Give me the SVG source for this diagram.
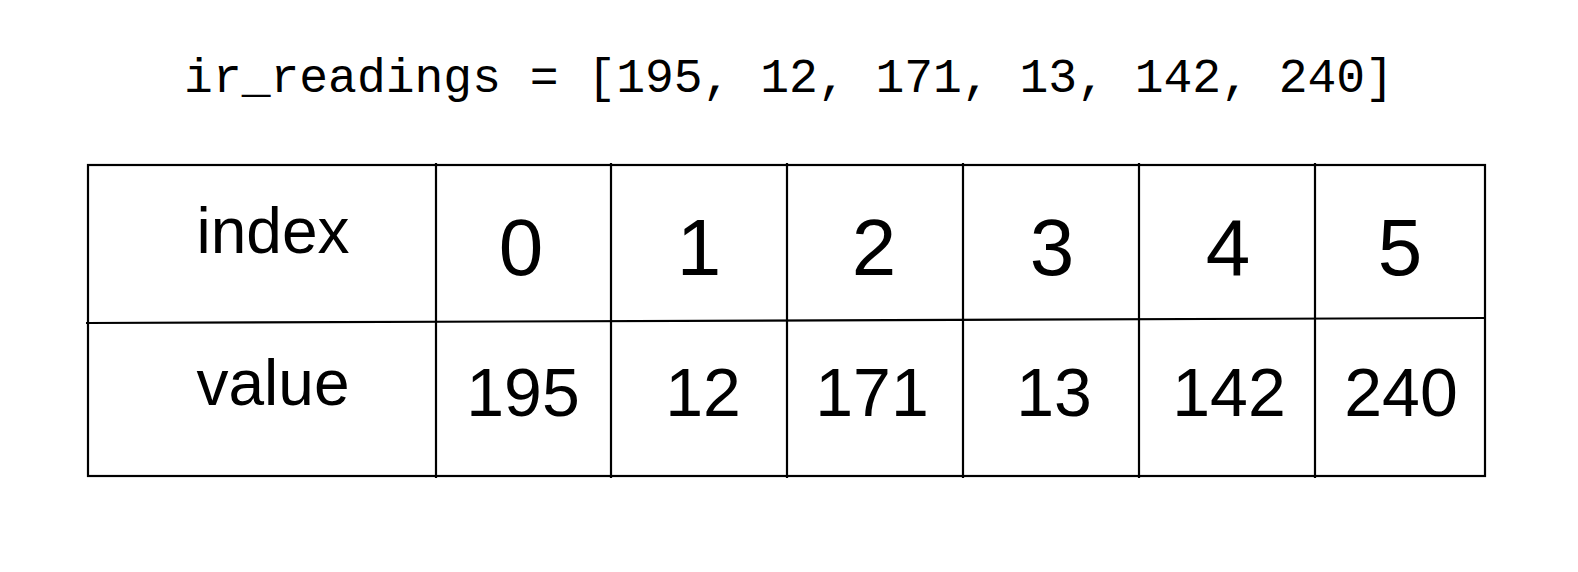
<svg xmlns="http://www.w3.org/2000/svg" width="1578" height="572" viewBox="0 0 1578 572">
<style>
.ln{stroke:#000;stroke-width:2.2;fill:none}
.t{font-family:"Liberation Sans",Arial,sans-serif;fill:#000;text-anchor:middle}
.lbl{font-size:64px}
.idx{font-size:80px}
.val{font-size:68px}
.code{font-family:"Liberation Mono","Courier New",monospace;font-size:48px;fill:#000;text-anchor:middle}
</style>
<rect width="1578" height="572" fill="#fff"/>
<text class="code" x="789" y="92">ir_readings = [195, 12, 171, 13, 142, 240]</text>
<g id="grid">
<rect class="ln" x="88" y="165" width="1397" height="311"/>
<line class="ln" x1="86" y1="323" x2="1485" y2="318"/>
<line class="ln" x1="436" y1="163" x2="436" y2="478"/>
<line class="ln" x1="611" y1="163" x2="611" y2="478"/>
<line class="ln" x1="787" y1="163" x2="787" y2="478"/>
<line class="ln" x1="963" y1="163" x2="963" y2="478"/>
<line class="ln" x1="1139" y1="163" x2="1139" y2="478"/>
<line class="ln" x1="1315" y1="163" x2="1315" y2="478"/>
</g>
<g id="row-index">
<text class="t lbl" x="273" y="253">index</text>
<text class="t idx" x="521" y="275">0</text>
<text class="t idx" x="699" y="275">1</text>
<text class="t idx" x="874" y="275">2</text>
<text class="t idx" x="1052" y="275">3</text>
<text class="t idx" x="1228" y="275">4</text>
<text class="t idx" x="1400" y="275">5</text>
</g>
<g id="row-value">
<text class="t lbl" x="273" y="405">value</text>
<text class="t val" x="523" y="416">195</text>
<text class="t val" x="703" y="416">12</text>
<text class="t val" x="872" y="416">171</text>
<text class="t val" x="1054" y="416">13</text>
<text class="t val" x="1229" y="416">142</text>
<text class="t val" x="1401" y="416">240</text>
</g>
</svg>
